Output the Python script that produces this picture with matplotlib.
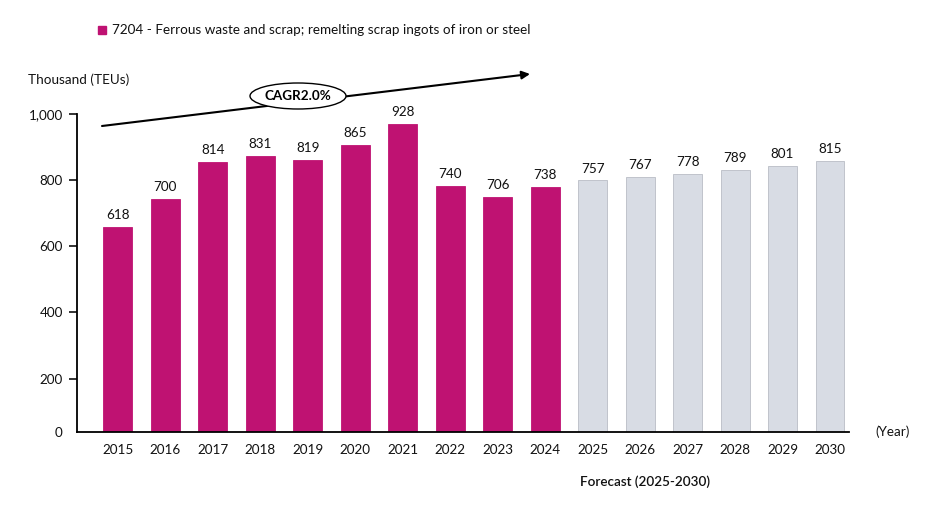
import numpy as np
import matplotlib.pyplot as plt
from matplotlib.patches import Ellipse

plt.rcParams['font.family'] = ['Lato', 'DejaVu Sans']

years = ['2015', '2016', '2017', '2018', '2019', '2020', '2021', '2022',
         '2023', '2024', '2025', '2026', '2027', '2028', '2029', '2030']
values = [618, 700, 814, 831, 819, 865, 928, 740, 706, 738,
          757, 767, 778, 789, 801, 815]
n_actual = 10  # 2015-2024 actual, rest forecast
ytick_labels = ['0', '200', '400', '600', '800', '1,000']

legend_text = '7204 - Ferrous waste and scrap; remelting scrap ingots of iron or steel'
magenta = '#BF1272'
grey = '#D8DCE4'
fs = 9.7

fig = plt.figure(figsize=(9.46, 5.07), dpi=100)
W, H = 946, 507
ax = fig.add_axes([76.7 / W, 1 - 432 / H, (849 - 76.7) / W, (432 - 113.7) / H])

x = np.arange(len(years))
colors = [magenta if i < n_actual else grey for i in range(len(years))]
edges = [magenta if i < n_actual else '#B9BDC5' for i in range(len(years))]
ax.bar(x, values, width=0.61, color=colors, edgecolor=edges, linewidth=0.6, zorder=2)

for xi, v in zip(x, values):
    ax.text(xi, v + 36, str(v), ha='center', va='center', fontsize=fs,
            color='#111111', clip_on=False)

ax.set_xlim(-0.863, 15.40)
ax.set_ylim(0, 958)

# tick marks sit as in the original drawing
ax.set_yticks([0, 161, 360, 560, 759, 958])
ax.set_yticklabels(ytick_labels)
ax.set_xticks(x)
ax.set_xticklabels(years)
ax.tick_params(axis='x', length=0, pad=9, labelsize=fs, colors='#111111')
ax.tick_params(axis='y', length=6, width=1.2, pad=4, labelsize=fs, colors='#111111')
ax.yaxis.get_major_ticks()[0].tick1line.set_visible(False)

for s in ['top', 'right']:
    ax.spines[s].set_visible(False)
ax.spines['left'].set_linewidth(1.3)
ax.spines['bottom'].set_linewidth(1.3)

# legend
fig.patches.append(plt.Rectangle((98 / W, 1 - 34 / H), 8 / W, 8 / H,
                                 transform=fig.transFigure, color=magenta))
fig.text(112 / W, 1 - 29.5 / H, legend_text, fontsize=fs, va='center', ha='left',
         color='#111111')

fig.text(28 / W, 1 - 80 / H, 'Thousand (TEUs)', fontsize=fs, va='center', ha='left',
         color='#111111')
fig.text(875 / W, 1 - 432 / H, '(Year)', fontsize=fs, va='center', ha='left',
         color='#111111')
fig.text(645 / W, 1 - 482 / H, 'Forecast (2025-2030)', fontsize=fs, va='center',
         ha='center', fontweight='semibold', color='#111111')

# CAGR arrow
ax.annotate('', xy=(530 / W, 1 - 74 / H), xytext=(102 / W, 1 - 126 / H),
            xycoords='figure fraction', textcoords='figure fraction',
            arrowprops=dict(arrowstyle='-|>', color='black', lw=1.5,
                            mutation_scale=12, shrinkA=0, shrinkB=0))
ell = Ellipse((298 / W, 1 - 96 / H), 96 / W, 26 / H, transform=fig.transFigure,
              facecolor='white', edgecolor='black', linewidth=1.0, zorder=5)
fig.patches.append(ell)
fig.text(298 / W, 1 - 96 / H, 'CAGR2.0%', fontsize=fs, fontweight='bold',
         ha='center', va='center', zorder=6)

fig.savefig('out.png', dpi=100)
